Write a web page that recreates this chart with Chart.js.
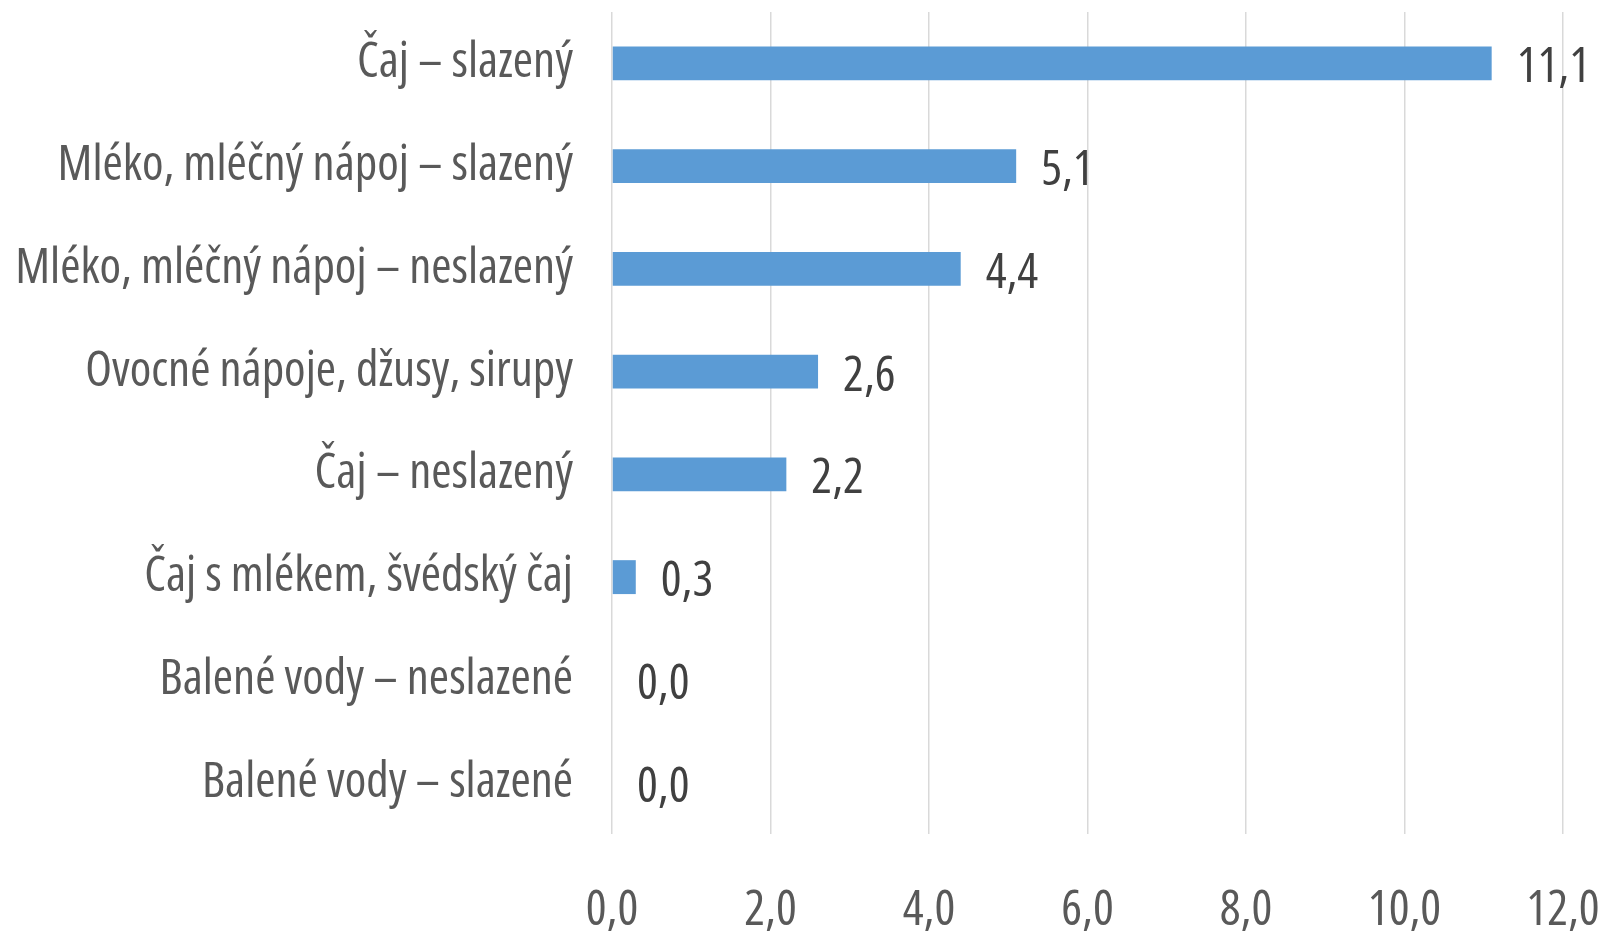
<!DOCTYPE html>
<html>
<head>
<meta charset="utf-8">
<script src="https://cdn.jsdelivr.net/npm/chart.js@4/dist/chart.umd.min.js"></script>
<style>
  html, body { margin: 0; padding: 0; background: #fff; }
  #wrap { width: 1604px; height: 934px; }
</style>
</head>
<body>
<div id="wrap"><canvas id="drinks"></canvas></div>
<script>
const categories = [
    'Čaj – slazený',
    'Mléko, mléčný nápoj – slazený',
    'Mléko, mléčný nápoj – neslazený',
    'Ovocné nápoje, džusy, sirupy',
    'Čaj – neslazený',
    'Čaj s mlékem, švédský čaj',
    'Balené vody – neslazené',
    'Balené vody – slazené'
];
const values = [11.1, 5.1, 4.4, 2.6, 2.2, 0.3, 0.0, 0.0];
const xTicks = [0, 2, 4, 6, 8, 10, 12];

const fontFamily = '"Open Sans", "Noto Sans", sans-serif';
// stretch keyword rides along in the weight slot of the font shorthand
const fontWeight = '400 semi-condensed';
const fontSize = 49;
const fmt = v => v.toFixed(1).replace('.', ',');

// draws the value next to each bar end
const valueLabels = {
    id: 'valueLabels',
    afterDatasetsDraw(chart) {
        const ctx = chart.ctx;
        const meta = chart.getDatasetMeta(0);
        ctx.save();
        ctx.font = fontWeight + ' ' + fontSize + 'px ' + fontFamily;
        ctx.fillStyle = '#404040';
        ctx.textAlign = 'left';
        ctx.textBaseline = 'middle';
        meta.data.forEach((bar, i) => {
            ctx.fillText(fmt(values[i]), bar.x + 25, bar.y + 5);
        });
        ctx.restore();
    }
};

new Chart(document.getElementById('drinks'), {
    type: 'bar',
    data: {
        labels: categories,
        datasets: [{
            data: values,
            backgroundColor: '#5b9bd5',
            borderWidth: 0,
            categoryPercentage: 1,
            barPercentage: 0.33
        }]
    },
    options: {
        indexAxis: 'y',
        responsive: true,
        maintainAspectRatio: false,
        animation: false,
        layout: { padding: { top: 12, right: 41, left: 0, bottom: 0 } },
        plugins: {
            legend: { display: false },
            tooltip: { enabled: false }
        },
        scales: {
            x: {
                min: 0,
                max: 12,
                afterBuildTicks: axis => { axis.ticks = xTicks.map(v => ({ value: v })); },
                afterFit: axis => {
                    axis.height = 100;
                    axis.paddingLeft = 0;
                    axis.paddingRight = 0;
                },
                grid: { color: '#d9d9d9', lineWidth: 1.5, drawTicks: false },
                border: { display: false },
                ticks: {
                    padding: 48,
                    color: '#595959',
                    font: { family: fontFamily, size: fontSize, weight: fontWeight },
                    callback: v => fmt(v)
                }
            },
            y: {
                afterFit: axis => {
                    axis.width = 612;
                    axis.paddingTop = 0;
                    axis.paddingBottom = 0;
                },
                grid: { display: false, drawTicks: false },
                border: { display: false },
                ticks: {
                    padding: 39,
                    color: '#595959',
                    font: { family: fontFamily, size: fontSize, weight: fontWeight }
                }
            }
        }
    },
    plugins: [valueLabels]
});
</script>
</body>
</html>
